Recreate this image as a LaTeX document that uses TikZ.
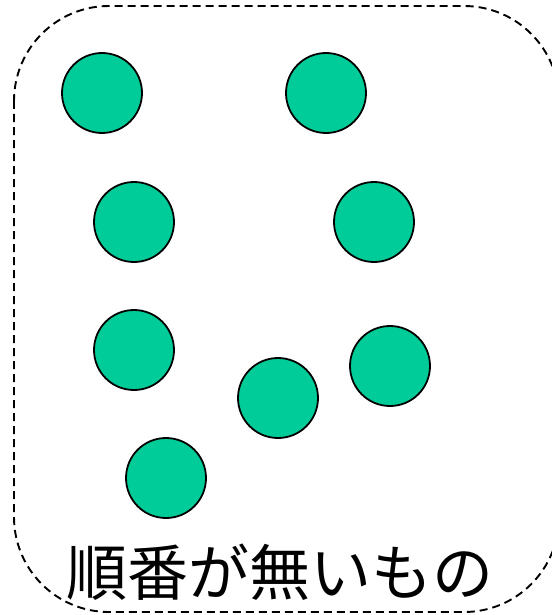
\documentclass[tikz,border=0pt]{standalone}
\usepackage{fontspec}
\newfontfamily\cjk{Noto Sans CJK JP}
\definecolor{dotgreen}{HTML}{00CC99}
\begin{document}
\begin{tikzpicture}[x=1pt,y=-1pt,
  dot/.style={circle,draw=black,line width=1.8pt,fill=dotgreen,minimum size=80pt,inner sep=0pt},
  frame/.style={draw=black,line width=1.9pt,dash pattern=on 8pt off 5pt,rounded corners=95pt}]
\useasboundingbox (0,0) rectangle (551,615);
\draw[frame] (14,6) rectangle (559,612);
\node[dot] (c1) at (102,93) {};
\node[dot] (c2) at (326,93) {};
\node[dot] (c3) at (134,222) {};
\node[dot] (c4) at (374,222) {};
\node[dot] (c5) at (134,350) {};
\node[dot] (c6) at (390,366) {};
\node[dot] (c7) at (278,398) {};
\node[dot] (c8) at (166,478) {};
\node[inner sep=0pt,font=\cjk\fontsize{61pt}{61pt}\selectfont] (t) at (280,572) {順番が無いもの};
\end{tikzpicture}
\end{document}
